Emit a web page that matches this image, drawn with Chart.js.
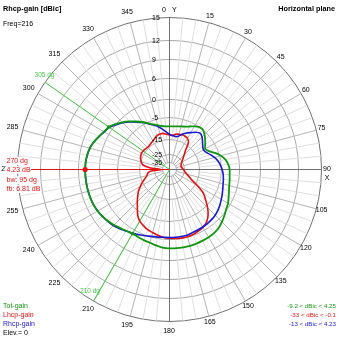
<!DOCTYPE html>
<html lang="en">
<head>
<meta charset="UTF-8" />
<title>Rhcp-gain polar plot</title>
<script src="https://cdn.jsdelivr.net/npm/chart.js@4.4.0/dist/chart.umd.min.js"></script>
<style>
  html, body { margin: 0; padding: 0; background: #fff; }
  canvas { display: block; }
</style>
</head>
<body>
<canvas id="polar" width="339" height="339"></canvas>

<script>
  // azimuth in degrees, 0 = Y axis (top), 90 = X axis (right)
  const angles = [0, 5, 10, 15, 20, 25, 30, 35, 40, 45, 50, 55, 60, 65, 70, 75, 80, 85,
    90, 95, 100, 105, 110, 115, 120, 125, 130, 135, 140, 145, 150, 155, 160, 165, 170, 175,
    180, 185, 190, 195, 200, 205, 210, 215, 220, 225, 230, 235, 240, 245, 250, 255, 260, 265,
    270, 275, 280, 285, 290, 295, 300, 305, 310, 315, 320, 325, 330, 335, 340, 345, 350, 355];

  // gains in dBic, one per angle
  const totGain = [-8.4, -8.3, -8.1, -7.8, -7.35, -6.65, -5.8, -5.1, -5.0, -5.9, -7.0, -8.2,
    -9.2, -8.2, -6.3, -4.6, -3.5, -2.9, -2.56, -2.5, -2.3, -2.1, -1.7, -1.2,
    -0.6, -0.2, 0.5, 1.3, 2.0, 2.35, 2.5, 2.6, 2.7, 2.75, 2.75, 2.75,
    2.7, 2.6, 2.2, 1.8, 1.6, 1.4, 1.25, 1.6, 2.0, 2.6, 3.1, 3.55,
    3.9, 4.1, 4.2, 4.23, 4.25, 4.25, 4.25, 4.2, 4.05, 3.75, 3.2, 2.45,
    1.75, 1.25, 0.15, -0.8, -1.85, -3.0, -4.1, -5.3, -6.45, -7.3, -7.95, -8.3];

  const lhcpGain = [-12.4, -12.6, -11.8, -11.4, -11.2, -11.3, -11.7, -13.2, -17.6, -20.3, -22.6, -24.4,
    -25.9, -27.0, -27.6, -28.2, -27.6, -27.0, -25.9, -25.2, -24.1, -22.6, -20.3, -17.9,
    -13.6, -9.1, -6.8, -4.4, -2.6, -1.4, -0.8, -0.5, -0.2, -0.1, -0.1, -0.2,
    -0.3, -0.45, -0.8, -1.2, -1.5, -2.1, -2.7, -3.9, -5.7, -7.4, -9.1, -10.7,
    -12.9, -15.1, -17.1, -18.6, -19.4, -21.5, -33.0, -21.0, -16.4, -15.4, -14.5, -13.9,
    -13.6, -13.6, -13.9, -14.3, -14.2, -13.7, -13.2, -12.4, -11.6, -11.3, -11.3, -12.0];

  const rhcpGain = [-12.0, -12.6, -13.0, -12.5, -10.9, -9.6, -8.6, -7.4, -6.65, -7.2, -8.4, -9.5,
    -10.1, -9.5, -8.2, -7.0, -6.0, -5.3, -4.8, -4.4, -4.15, -3.9, -3.55, -3.1,
    -2.65, -2.15, -1.7, -1.35, -1.15, -1.0, -0.9, -0.8, -0.7, -0.5, -0.5, -0.5,
    -0.5, -0.5, -0.35, -0.2, 0.15, 0.6, 1.1, 1.6, 2.25, 2.85, 3.2, 3.55,
    3.85, 4.05, 4.15, 4.2, 4.22, 4.23, 4.23, 4.18, 4.0, 3.7, 3.15, 2.4,
    1.65, 1.15, -0.1, -1.0, -2.05, -3.2, -4.3, -5.5, -6.65, -7.8, -9.3, -10.8];

  // gain scale rings and labelled directions
  const ringDb = [-35, -25, -15, -5, 0, 6, 9, 12, 15];
  const angleTicks = [0, 15, 30, 45, 60, 75, 90, 105, 120, 135, 150, 165,
    180, 195, 210, 225, 240, 255, 270, 285, 300, 315, 330, 345];

  const peakAngle = 270;
  const backAngle = 90;
  const beamEdges = [305, 210];
  const rangeText = ['-9.2 < dBic < 4.25', '-33 < dBic < -0.1', '-13 < dBic < 4.23'];

  // compressed log scale: where each ring sits, as a part of the rim radius
  const RING_FRAC = [0.046, 0.099, 0.197, 0.342, 0.461, 0.599, 0.724, 0.849, 1];

  function toR(db) {
    let i = 0;
    while (i < ringDb.length - 2 && db > ringDb[i + 1]) i++;
    const t = (db - ringDb[i]) / (ringDb[i + 1] - ringDb[i]);
    return Math.max(0, RING_FRAC[i] * Math.pow(RING_FRAC[i + 1] / RING_FRAC[i], t));
  }

  const GREEN = '#129612', RED = '#e01212', BLUE = '#1a1ad0', BEAM = '#46c846';
  const FONT = '"Liberation Sans", Arial, sans-serif';

  const idx = a => angles.indexOf(a);

  function text(c, s, x, y, color, align, size, bold) {
    c.font = (bold ? 'bold ' : '') + size + 'px ' + FONT;
    c.fillStyle = color;
    c.textAlign = align || 'left';
    c.textBaseline = 'middle';
    c.fillText(s, x, y);
  }

  function line(c, s, i, r0, r1, color) {
    const a = s.getPointPosition(i, r0), b = s.getPointPosition(i, r1);
    c.strokeStyle = color;
    c.beginPath(); c.moveTo(a.x, a.y); c.lineTo(b.x, b.y); c.stroke();
  }

  const overlay = {
    id: 'overlay',
    beforeDraw(chart) {
      chart.ctx.save();
      chart.ctx.translate(0.5, 0.5);
    },
    beforeDatasetsDraw(chart) {
      const s = chart.scales.r, c = chart.ctx, R = s.drawingArea;
      c.save();
      c.lineWidth = 1;
      // minor spokes stop short of the centre
      angles.forEach((a, i) => {
        if (a % 90 === 0) return;
        if (a % 15 === 0) line(c, s, i, s.getDistanceFromCenterForValue(toR(-35)), R, '#b4b4b4');
        else line(c, s, i, s.getDistanceFromCenterForValue(toR(-15)), R, '#dedede');
      });
      beamEdges.forEach(a => line(c, s, idx(a), 0, R, BEAM));
      line(c, s, idx(peakAngle), 0, R, RED);
      c.restore();
    },
    afterDatasetsDraw(chart) {
      const s = chart.scales.r, c = chart.ctx;
      c.save();
      beamEdges.forEach(a => {
        const p = s.getPointPositionForValue(idx(a), toR(totGain[idx(a)]));
        c.fillStyle = GREEN;
        c.beginPath(); c.arc(p.x, p.y, 1.8, 0, Math.PI * 2); c.fill();
      });
      const pk = s.getPointPositionForValue(idx(peakAngle), toR(totGain[idx(peakAngle)]));
      c.fillStyle = RED;
      c.beginPath(); c.arc(pk.x, pk.y, 2.6, 0, Math.PI * 2); c.fill();
      c.restore();
    },
    afterDraw(chart) {
      const s = chart.scales.r, c = chart.ctx;
      c.restore();
      const cx = s.xCenter, cy = s.yCenter, R = s.drawingArea;

      // direction labels
      angleTicks.forEach(a => {
        if (a === 0) {
          text(c, '0', cx - 3, cy - R - 7, '#000', 'right', 7);
          text(c, 'Y', cx + 3, cy - R - 7, '#000', 'left', 7);
          return;
        }
        const left = a > 180;
        const p = s.getPointPosition(idx(a), R + (left ? 10 : 6) + (a === 180 ? 4 : 0));
        text(c, String(a), p.x, p.y, '#000', 'center', 7);
      });
      text(c, 'X', cx + R + 6, cy + 9, '#000', 'center', 7);

      // gain ring labels along the Y axis
      ringDb.forEach(db => {
        const y = cy - s.getDistanceFromCenterForValue(toR(db));
        text(c, String(db), cx - 17, y + 1.5, '#000', 'left', 7);
      });

      // beam edge labels
      const e0 = s.getPointPosition(idx(beamEdges[0]), R);
      text(c, beamEdges[0] + ' dg', e0.x, e0.y - 7, BEAM, 'center', 6.5);
      const e1 = s.getPointPosition(idx(beamEdges[1]), R);
      text(c, beamEdges[1] + ' dg', e1.x - 3, e1.y - 9, BEAM, 'center', 6.5);

      // peak annotation
      const iPk = idx(peakAngle), iBk = idx(backAngle);
      const notes = [
        peakAngle + ' dg',
        rhcpGain[iPk].toFixed(2) + ' dB',
        'bw: ' + (beamEdges[0] - beamEdges[1]) + ' dg',
        'fb: ' + (totGain[iPk] - totGain[iBk]).toFixed(2) + ' dB'
      ];
      const ny = [161, 170, 180, 189];
      c.font = '7px ' + FONT;
      notes.forEach((n, i) => {
        const w = c.measureText(n).width;
        c.fillStyle = '#fff';
        c.fillRect(6, ny[i] - 4, w + 1, 8);
        text(c, n, 6.5, ny[i], RED, 'left', 7);
      });

      // titles
      text(c, 'Rhcp-gain [dBic]', 3, 9, '#000', 'left', 7.3, true);
      text(c, 'Freq=216', 3, 24, '#000', 'left', 7);
      text(c, 'Horizontal plane', 335, 9, '#000', 'right', 7.3, true);

      // legends
      text(c, 'Tot-gain', 3, 306, GREEN, 'left', 7);
      text(c, 'Lhcp-gain', 3, 315, RED, 'left', 7);
      text(c, 'Rhcp-gain', 3, 324, BLUE, 'left', 7);
      text(c, 'Elev.= 0', 3, 333, '#000', 'left', 7);
      text(c, rangeText[0], 336, 306, GREEN, 'right', 6.2);
      text(c, rangeText[1], 336, 315, RED, 'right', 6.2);
      text(c, rangeText[2], 336, 324, BLUE, 'right', 6.2);
    }
  };

  new Chart(document.getElementById('polar'), {
    type: 'radar',
    data: {
      labels: angles,
      datasets: [
        { label: 'Tot-gain', data: totGain.map(toR), borderColor: GREEN, borderWidth: 1.8 },
        { label: 'Rhcp-gain', data: rhcpGain.map(toR), borderColor: BLUE, borderWidth: 1.6 },
        { label: 'Lhcp-gain', data: lhcpGain.map(toR), borderColor: RED, borderWidth: 1.6 }
      ]
    },
    options: {
      responsive: false,
      animation: false,
      devicePixelRatio: 1,
      layout: { padding: 17 },
      elements: {
        line: { tension: 0.25, fill: false },
        point: { radius: 0, hitRadius: 0, hoverRadius: 0 }
      },
      plugins: { legend: { display: false }, tooltip: { enabled: false } },
      scales: {
        r: {
          min: 0,
          max: 1,
          startAngle: 0,
          ticks: { display: false },
          pointLabels: { display: false },
          afterBuildTicks: axis => {
            axis.ticks = [0].concat(ringDb.map(toR)).map(v => ({ value: v }));
          },
          grid: {
            circular: true,
            lineWidth: 1,
            color: ctx => ctx.index === ringDb.length ? '#707070' : '#a8a8a8'
          },
          angleLines: {
            lineWidth: 1,
            // only the X / Y axes come from the scale, the rest are drawn shorter
            color: ctx => angles[ctx.index] % 90 === 0 ? '#707070' : 'rgba(0,0,0,0)'
          }
        }
      }
    },
    plugins: [overlay]
  });
</script>
</body>
</html>
